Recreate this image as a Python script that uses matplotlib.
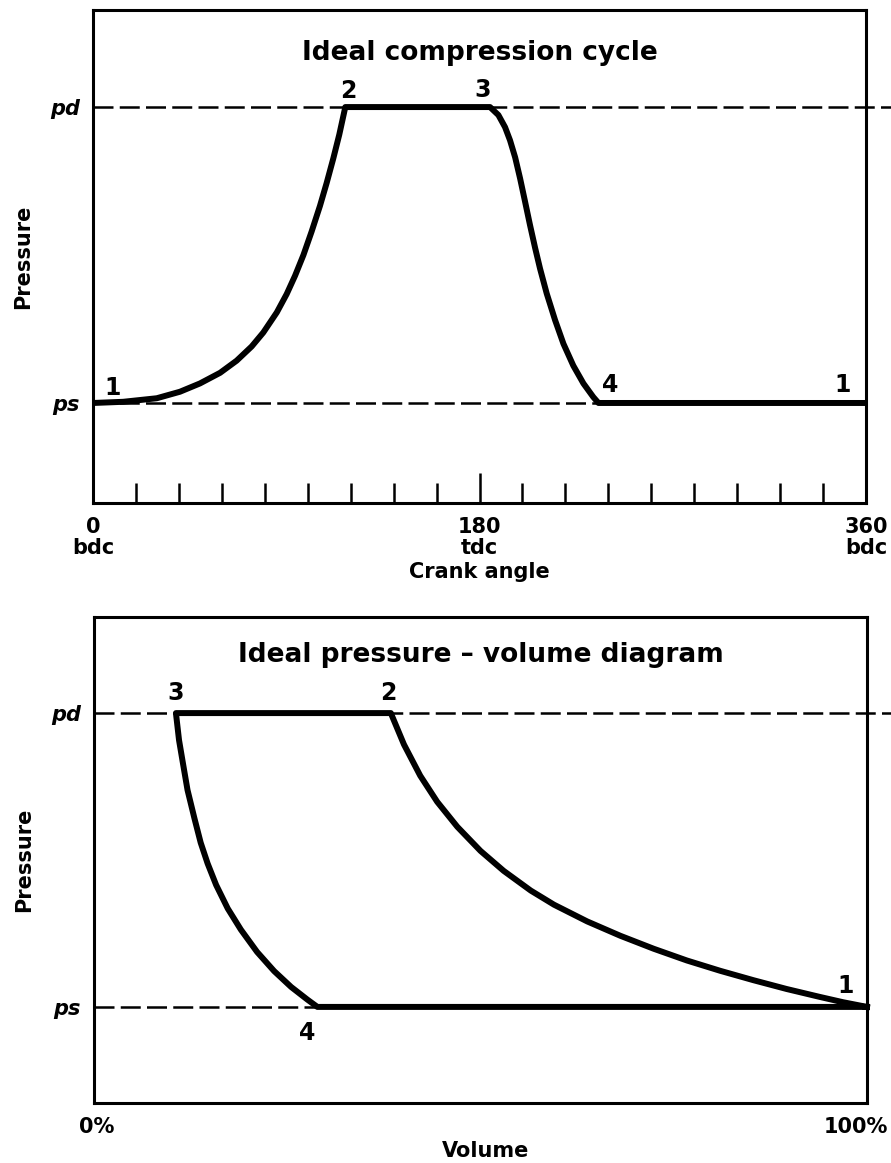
import matplotlib
matplotlib.use("Agg")
import matplotlib.pyplot as plt
from matplotlib.ticker import FixedLocator

plt.rcParams['font.family'] = ['DejaVu Sans']
plt.rcParams['font.weight'] = 'bold'

# ===== data (ps = 0, pd = 1) =====
# top: pressure vs crank angle
comp_angle = [0, 14.1, 29.7, 40.5, 49.8, 59.2, 66.9, 73.9, 79.3, 85.6, 90.2,
              94.1, 98.0, 101.8, 105.7, 108.8, 111.9, 114.7, 117.5]
comp_p = [0, 0.004, 0.016, 0.038, 0.066, 0.102, 0.143, 0.191, 0.238, 0.306, 0.368,
          0.43, 0.5, 0.579, 0.666, 0.743, 0.826, 0.907, 1.0]
exp_angle = [184.9, 188.8, 191.9, 194.2, 196.6, 198.9, 201.2, 203.5, 205.9, 208.2,
             211.3, 215.2, 219.1, 223.7, 228.4, 233.0, 235.4]
exp_p = [1.0, 0.973, 0.932, 0.888, 0.83, 0.759, 0.681, 0.602, 0.524, 0.454,
         0.37, 0.28, 0.2, 0.126, 0.066, 0.02, 0.0]
angle_end = 360

# bottom: pressure vs volume (%)
pv_comp_vol = [38.4, 40.1, 42.2, 44.4, 47.0, 50.0, 53.0, 56.5, 59.5, 63.8, 68.1,
               72.4, 76.7, 81.0, 85.3, 89.6, 93.9, 96.9, 100]
pv_comp_p = [1.0, 0.893, 0.787, 0.698, 0.613, 0.531, 0.463, 0.396, 0.348, 0.291, 0.242,
             0.198, 0.158, 0.123, 0.091, 0.061, 0.034, 0.016, 0.0]
pv_exp_vol = [10.6, 11.0, 11.5, 12.1, 13.0, 13.8, 14.7, 15.8, 17.3, 19.0, 21.1,
              23.3, 25.5, 27.6, 28.9]
pv_exp_p = [1.0, 0.908, 0.83, 0.738, 0.641, 0.559, 0.488, 0.415, 0.335, 0.263, 0.187,
            0.122, 0.068, 0.025, 0.0]

p_levels = [0, 1]
p_labels = ['ps', 'pd']
crank_major = [0, 180, 360]
crank_labels = ['0\nbdc', '180\ntdc', '360\nbdc']
crank_minor = [a for a in range(20, 360, 20) if a != 180]

# point labels: (text, x, y)
top_points = [('1', 9.3, 0.027), ('2', 119, 1.03), ('3', 181.6, 1.034),
              ('4', 240.8, 0.037), ('1', 349, 0.037)]
pv_points = [('3', 10.6, 1.044), ('2', 38.1, 1.044), ('4', 27.6, -0.112),
             ('1', 97.2, 0.048)]

CURVE_LW = 4.3
DASH = dict(color='black', lw=1.8, linestyle=(0, (8, 2.5)))

fig = plt.figure(figsize=(8.91, 11.63), dpi=100)


def style_box(ax):
    for s in ax.spines.values():
        s.set_linewidth(2.2)
    ax.set_yticks(p_levels, p_labels)
    ax.tick_params(axis='y', length=0, pad=9.5, labelsize=15)
    for t in ax.get_yticklabels():
        t.set_fontstyle('italic')
        t.set_fontweight('bold')
    ax.text(-0.0906, 0.5, 'Pressure', transform=ax.transAxes, rotation=90,
            ha='center', va='center', fontsize=15, fontweight='bold')


# ===== top: ideal compression cycle =====
ax1 = fig.add_axes([93 / 891, 1 - 503 / 1163, 773 / 891, 493 / 1163])
ax1.set_xlim(0, 360)
ax1.set_ylim(-0.338, 1.328)
style_box(ax1)

ax1.axhline(1, xmin=0, xmax=1.032, clip_on=False, **DASH)
ax1.axhline(0, **DASH)

x_top = comp_angle + exp_angle + [angle_end]
y_top = comp_p + exp_p + [0]
ax1.plot(x_top, y_top, color='black', lw=CURVE_LW, solid_joinstyle='round',
         solid_capstyle='butt', clip_on=False)

ax1.set_xticks(crank_major, crank_labels)
ax1.xaxis.set_minor_locator(FixedLocator(crank_minor))
ax1.tick_params(axis='x', which='major', direction='in', length=21.6, width=1.8,
                pad=10, labelsize=15)
ax1.tick_params(axis='x', which='minor', direction='in', length=14.4, width=1.8)
for t in ax1.get_xticklabels():
    t.set_fontweight('bold')
    t.set_linespacing(1.1)

ax1.text(0.5, -0.152, 'Crank angle', transform=ax1.transAxes, ha='center',
         va='baseline', fontsize=15, fontweight='bold')
ax1.text(0.5, 0.899, 'Ideal compression cycle', transform=ax1.transAxes,
         ha='center', va='baseline', fontsize=19, fontweight='bold')
for txt, x, y in top_points:
    ax1.text(x, y, txt, ha='center', va='baseline', fontsize=17, fontweight='bold')

# ===== bottom: ideal pressure-volume diagram =====
ax2 = fig.add_axes([94 / 891, 1 - 1103 / 1163, 773 / 891, 486 / 1163])
ax2.set_xlim(0, 100)
ax2.set_ylim(-0.327, 1.327)
style_box(ax2)
ax2.set_xticks([])

ax2.axhline(1, xmin=0, xmax=1.032, clip_on=False, **DASH)
ax2.axhline(0, **DASH)

x_pv = pv_comp_vol[::-1] + pv_exp_vol + [pv_comp_vol[-1]]
y_pv = pv_comp_p[::-1] + pv_exp_p + [pv_comp_p[-1]]
ax2.plot(x_pv, y_pv, color='black', lw=CURVE_LW, solid_joinstyle='round',
         clip_on=False)

ax2.text(0.003, -0.0617, '0%', transform=ax2.transAxes, ha='center',
         va='baseline', fontsize=15, fontweight='bold')
ax2.text(0.985, -0.0617, '100%', transform=ax2.transAxes, ha='center',
         va='baseline', fontsize=15, fontweight='bold')
ax2.text(0.506, -0.111, 'Volume', transform=ax2.transAxes, ha='center',
         va='baseline', fontsize=15, fontweight='bold')
ax2.text(0.5, 0.907, 'Ideal pressure \u2013 volume diagram', transform=ax2.transAxes,
         ha='center', va='baseline', fontsize=19, fontweight='bold')
for txt, x, y in pv_points:
    ax2.text(x, y, txt, ha='center', va='baseline', fontsize=17, fontweight='bold')

fig.savefig('out.png', dpi=100)
plt.close(fig)
